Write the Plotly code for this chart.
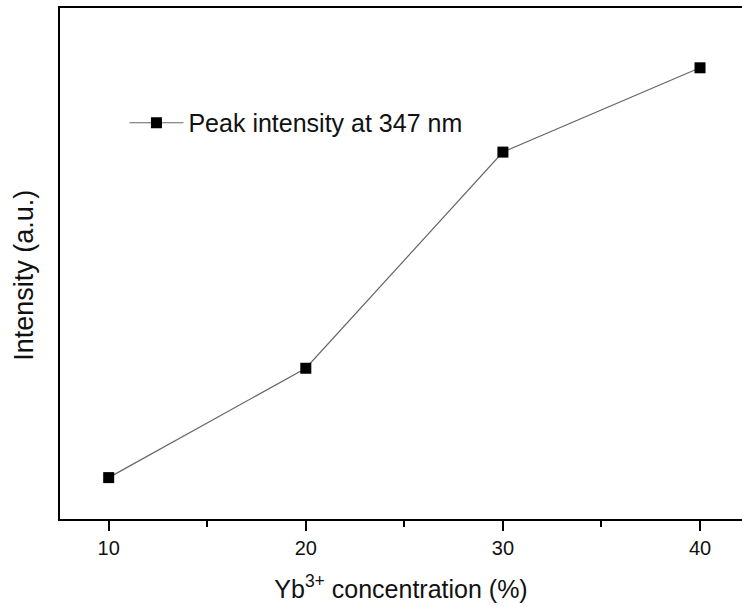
import plotly.graph_objects as go

concentration = [10, 20, 30, 40]
intensity = [8.1, 29.5, 71.8, 88.3]
series_name = "Peak intensity at 347 nm"
x_title = "Yb<sup>3+</sup> concentration (%)"
y_title = "Intensity (a.u.)"
major_ticks = [10, 20, 30, 40]

fig = go.Figure()
fig.add_trace(go.Scatter(
    x=concentration, y=intensity, mode="lines+markers", name=series_name,
    line=dict(color="#666666", width=1.2),
    marker=dict(symbol="square", size=11, color="black"),
))

font = "Liberation Sans, Arial, sans-serif"
fig.update_layout(
    width=742, height=608,
    margin=dict(l=60, r=0, t=8, b=89),
    paper_bgcolor="white", plot_bgcolor="white",
    font=dict(family=font, color="#111111"),
    showlegend=True,
    legend=dict(x=0.0945, y=0.775, xanchor="left", yanchor="middle",
                font=dict(size=25, family=font, color="#111111"),
                bgcolor="rgba(0,0,0,0)", itemwidth=54),
    xaxis=dict(
        range=[7.53, 42.13], showgrid=False, zeroline=False,
        showline=True, linecolor="black", linewidth=2, mirror=True,
        tickmode="array", tickvals=major_ticks, ticks="outside",
        ticklen=10, tickwidth=2, tickcolor="black",
        tickfont=dict(size=20, family=font, color="#111111"),
        minor=dict(tickvals=[15, 25, 35], ticks="outside", ticklen=6,
                   tickwidth=2, tickcolor="black", showgrid=False),
        title=dict(text=x_title, font=dict(size=25, family=font, color="#111111"),
                   standoff=22),
    ),
    yaxis=dict(
        range=[0, 100], showgrid=False, zeroline=False,
        showline=True, linecolor="black", linewidth=2, mirror=False,
        showticklabels=False, ticks="",
    ),
    annotations=[dict(
        text=y_title, xref="paper", yref="paper", x=-0.053, y=0.4775,
        xanchor="center", yanchor="middle", textangle=-90, showarrow=False,
        font=dict(size=27, family=font, color="#111111"),
    )],
)

fig.write_html("out.html")
